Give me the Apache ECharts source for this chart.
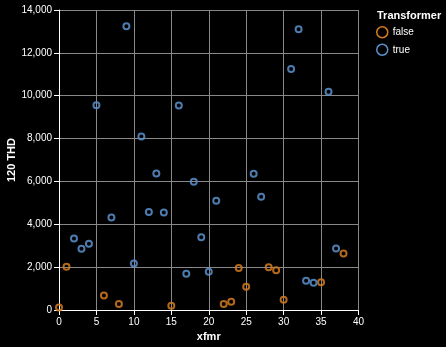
<!DOCTYPE html>
<html><head><meta charset="utf-8">
<script src="https://cdn.jsdelivr.net/npm/echarts@6/dist/echarts.min.js"></script>
<style>html,body{margin:0;padding:0;background:#000;}#c{width:446px;height:347px;}</style>
</head><body><div id="c"></div>
<script>
const seriesNames = ["false", "true"];
const falseX = [0, 1, 6, 8, 15, 22, 23, 24, 25, 28, 29, 30, 35, 38];
const falseY = [120, 2020, 680, 280, 200, 280, 390, 1960, 1090, 2000, 1850, 480, 1290, 2640];
const trueX = [2, 3, 4, 5, 7, 9, 10, 11, 12, 13, 14, 16, 17, 18, 19, 20, 21, 26, 27, 31, 32, 33, 34, 36, 37];
const trueY = [3340, 2860, 3090, 9550, 4320, 13240, 2170, 8100, 4570, 6370, 4550, 9540, 1690, 5990, 3390, 1790, 5100, 6360, 5290, 11250, 13100, 1370, 1270, 10190, 2870];
const xTicks = [0, 5, 10, 15, 20, 25, 30, 35, 40];
const yTicks = [0, 2000, 4000, 6000, 8000, 10000, 12000, 14000];
const colors = ["#d27a1e", "#5b91cc"];

const chart = echarts.init(document.getElementById('c'), null, {renderer: 'canvas'});
const font = 'Helvetica, "Liberation Sans", Arial, sans-serif';
function pts(xs, ys) { return xs.map((x, i) => [x, ys[i]]); }
const mk = (name, data, color) => ({
  name, type: 'scatter', data, symbol: 'circle', symbolSize: 6,
  itemStyle: {color: 'rgba(0,0,0,0)', borderColor: color, borderWidth: 2, opacity: 0.85},
  emphasis: {disabled: true}
});
chart.setOption({
  backgroundColor: '#000',
  animation: false,
  textStyle: {fontFamily: font},
  grid: {left: 59, right: 87.5, top: 10, bottom: 37, containLabel: false, outerBoundsMode: 'none'},
  xAxis: {
    type: 'value', min: xTicks[0], max: xTicks[xTicks.length - 1], interval: 5,
    name: 'xfmr', nameLocation: 'middle', nameGap: 21,
    nameTextStyle: {color: '#fff', fontWeight: 'bold', fontSize: 11, fontFamily: font},
    axisLine: {show: true, lineStyle: {color: '#fff', width: 1}},
    axisTick: {show: true, length: 5, lineStyle: {color: '#fff'}},
    axisLabel: {color: '#fff', fontSize: 10, margin: 7, fontFamily: font},
    splitLine: {show: true, lineStyle: {color: '#888', width: 1}}
  },
  yAxis: {
    type: 'value', min: yTicks[0], max: yTicks[yTicks.length - 1], interval: 2000,
    name: '', 
    axisLine: {show: true, lineStyle: {color: '#fff', width: 1}},
    axisTick: {show: true, length: 5, lineStyle: {color: '#fff'}},
    axisLabel: {color: '#fff', fontSize: 10, margin: 7, fontFamily: font,
      formatter: v => v.toLocaleString('en-US')},
    splitLine: {show: true, lineStyle: {color: '#888', width: 1}}
  },
  legend: {
    orient: 'vertical', left: 371, top: 21, itemGap: 5, itemWidth: 11, itemHeight: 11,
    data: seriesNames.map((n, i) => ({name: n, icon: 'circle',
      itemStyle: {color: 'rgba(0,0,0,0)', borderColor: colors[i], borderWidth: 1.5, opacity: 1}})),
    textStyle: {color: '#fff', fontSize: 10, fontFamily: font},
    selectedMode: false
  },
  graphic: [
    {type: 'text', left: 377, top: 10,
      style: {text: 'Transformer', fill: '#fff', font: 'bold 11px ' + font}},
    {type: 'text', x: 12, y: 160, rotation: Math.PI / 2,
      style: {text: '120 THD', fill: '#fff', font: 'bold 11px ' + font, align: 'center', verticalAlign: 'middle'}}
  ],
  series: [mk(seriesNames[0], pts(falseX, falseY), colors[0]), mk(seriesNames[1], pts(trueX, trueY), colors[1])]
});
</script></body></html>
